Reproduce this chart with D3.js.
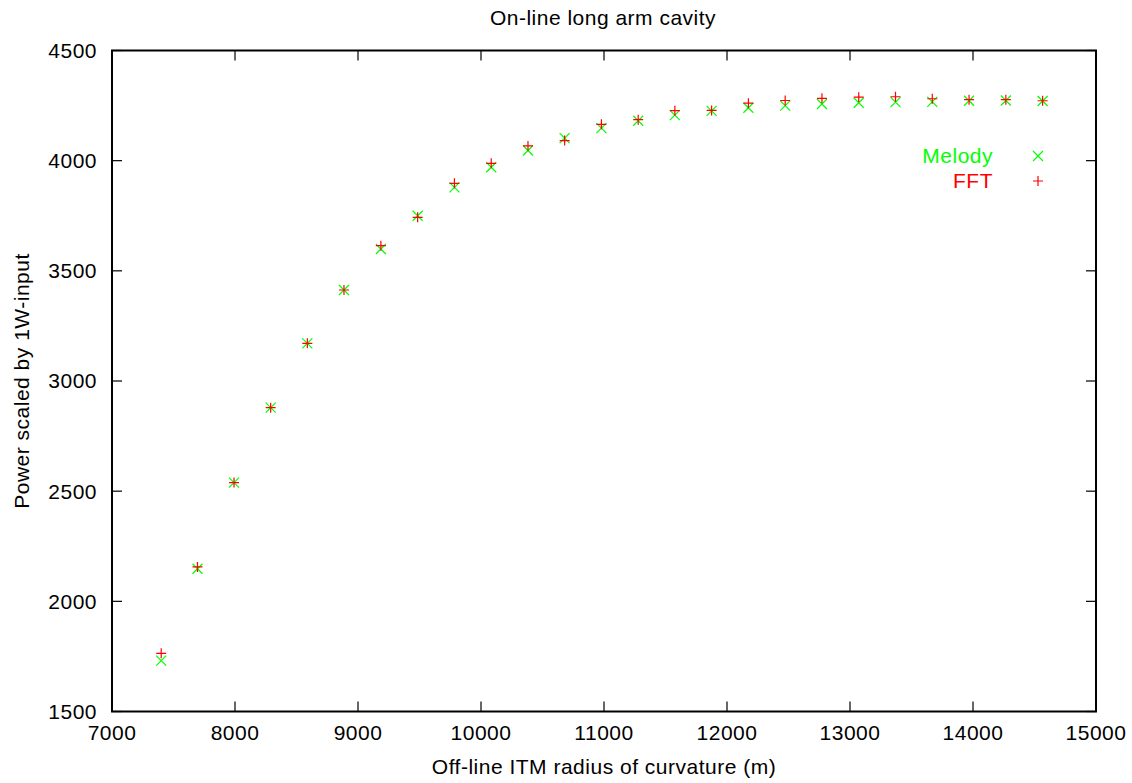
<!DOCTYPE html>
<html>
<head>
<meta charset="utf-8">
<script src="https://cdn.jsdelivr.net/npm/d3@7"></script>
<style>
  html, body { margin: 0; padding: 0; background: #fff; }
  text { font-family: "Liberation Sans", Arial, sans-serif; letter-spacing: 0.5px; }
</style>
</head>
<body>
<svg id="chart" width="1132" height="783"></svg>
<script>
const radius = [7400, 7695, 7992, 8290, 8588, 8886, 9186, 9485, 9784, 10083, 10382, 10680, 10979,
                11278, 11576, 11875, 12174, 12473, 12772, 13071, 13370, 13669, 13968, 14267, 14566];
const melody = [1731, 2148, 2539, 2879, 3171, 3413, 3599, 3750, 3879, 3970, 4046, 4102, 4148,
                4181, 4207, 4226, 4240, 4250, 4257, 4263, 4266, 4267, 4272, 4273, 4271];
const fft    = [1764, 2156, 2539, 2879, 3171, 3413, 3614, 3743, 3897, 3988, 4067, 4091, 4165,
                4186, 4227, 4228, 4261, 4273, 4283, 4288, 4290, 4281, 4277, 4277, 4272];
const xTicks = [7000, 8000, 9000, 10000, 11000, 12000, 13000, 14000, 15000];
const yTicks = [1500, 2000, 2500, 3000, 3500, 4000, 4500];
const titleText = "On-line long arm cavity";
const xLabel = "Off-line ITM radius of curvature (m)";
const yLabel = "Power scaled by 1W-input";
const seriesNames = ["Melody", "FFT"];
const seriesColors = ["#00ff00", "#ff0000"];

const svg = d3.select("#chart");
const L = 112, R = 1096, T = 50.5, B = 711.5;
const x = d3.scaleLinear().domain([7000, 15000]).range([L, R]);
const y = d3.scaleLinear().domain([1500, 4500]).range([B, T]);
const fs = 21;
const tickLen = 10;

// ticks (inward, mirrored)
const g = svg.append("g");
xTicks.forEach(t => {
  g.append("line").attr("x1", x(t)).attr("x2", x(t)).attr("y1", B).attr("y2", B - tickLen)
    .attr("stroke", "#000").attr("stroke-width", 1.2);
  g.append("line").attr("x1", x(t)).attr("x2", x(t)).attr("y1", T).attr("y2", T + tickLen)
    .attr("stroke", "#000").attr("stroke-width", 1.2);
  g.append("text").attr("x", x(t)).attr("y", 733).attr("dy", "0.35em")
    .attr("text-anchor", "middle").attr("font-size", fs).text(t);
});
yTicks.forEach(t => {
  g.append("line").attr("x1", L).attr("x2", L + tickLen).attr("y1", y(t)).attr("y2", y(t))
    .attr("stroke", "#000").attr("stroke-width", 1.2);
  g.append("line").attr("x1", R).attr("x2", R - tickLen).attr("y1", y(t)).attr("y2", y(t))
    .attr("stroke", "#000").attr("stroke-width", 1.2);
  g.append("text").attr("x", 97).attr("y", y(t)).attr("dy", "0.35em")
    .attr("text-anchor", "end").attr("font-size", fs).text(t);
});

// border
svg.append("rect").attr("x", L).attr("y", T).attr("width", R - L).attr("height", B - T)
  .attr("fill", "none").attr("stroke", "#000").attr("stroke-width", 2);

// titles
svg.append("text").attr("x", 603).attr("y", 18).attr("dy", "0.35em")
  .attr("text-anchor", "middle").attr("font-size", fs).text(titleText);
svg.append("text").attr("x", 604).attr("y", 767).attr("dy", "0.35em")
  .attr("text-anchor", "middle").attr("font-size", fs).text(xLabel);
svg.append("text").attr("transform", "translate(22,381) rotate(-90)").attr("dy", "0.35em")
  .attr("text-anchor", "middle").attr("font-size", fs).text(yLabel);

const s = 5;
function drawX(sel, cx, cy, color) {
  sel.append("path").attr("d", `M${cx - s},${cy - s}L${cx + s},${cy + s}M${cx - s},${cy + s}L${cx + s},${cy - s}`)
    .attr("stroke", color).attr("stroke-width", 1.2).attr("fill", "none");
}
function drawPlus(sel, cx, cy, color) {
  sel.append("path").attr("d", `M${cx - s},${cy}L${cx + s},${cy}M${cx},${cy - s}L${cx},${cy + s}`)
    .attr("stroke", color).attr("stroke-width", 1.2).attr("fill", "none");
}

const pts = svg.append("g");
radius.forEach((r, i) => {
  drawX(pts, x(r), y(melody[i]), seriesColors[0]);
});
radius.forEach((r, i) => {
  drawPlus(pts, x(r), y(fft[i]), seriesColors[1]);
});

// legend
const leg = svg.append("g");
leg.append("text").attr("x", 993).attr("y", 156).attr("dy", "0.35em").attr("text-anchor", "end")
  .attr("font-size", fs).attr("fill", seriesColors[0]).text(seriesNames[0]);
drawX(leg, 1038, 156, seriesColors[0]);
leg.append("text").attr("x", 993).attr("y", 181).attr("dy", "0.35em").attr("text-anchor", "end")
  .attr("font-size", fs).attr("fill", seriesColors[1]).text(seriesNames[1]);
drawPlus(leg, 1038, 181, seriesColors[1]);
</script>
</body>
</html>
